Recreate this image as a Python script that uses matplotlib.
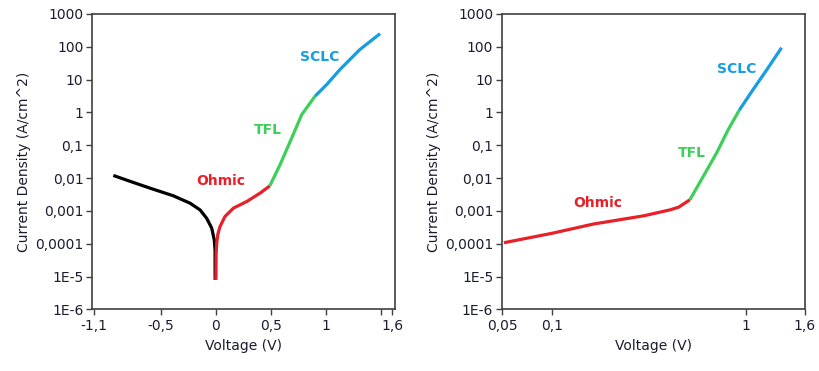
import numpy as np
import matplotlib.pyplot as plt
from matplotlib.ticker import FixedLocator, NullLocator

# left panel: J-V on linear voltage axis
neg_v = [-0.928, -0.747, -0.566, -0.384, -0.233, -0.142, -0.082, -0.036, -0.013, -0.006, -0.005]
neg_j = [0.0121, 0.0074, 0.0046, 0.0029, 0.00173, 0.00108, 6.0e-4, 3.0e-4, 1.31e-4, 6.5e-5, 8e-6]
ohm_v = [0.002, 0.004, 0.009, 0.020, 0.039, 0.084, 0.16, 0.281, 0.402, 0.49]
ohm_j = [8e-6, 5e-5, 1.05e-4, 2.0e-4, 3.35e-4, 6.8e-4, 1.22e-3, 1.94e-3, 3.5e-3, 5.8e-3]
tfl_v = [0.49, 0.583, 0.689, 0.78, 0.90]
tfl_j = [5.8e-3, 0.0256, 0.168, 0.865, 3.13]
sclc_v = [0.90, 1.006, 1.127, 1.308, 1.49]
sclc_j = [3.13, 7.1, 20.5, 83.5, 252]

# right panel: same kind of sweep on log voltage axis
ohm2_v = [0.0562, 0.1, 0.163, 0.296, 0.406, 0.45, 0.515]
ohm2_j = [1.08e-4, 2.1e-4, 4.0e-4, 7.1e-4, 1.08e-3, 1.3e-3, 2.19e-3]
tfl2_v = [0.515, 0.604, 0.708, 0.813, 0.927]
tfl2_j = [2.19e-3, 0.0113, 0.0585, 0.30, 1.17]
sclc2_v = [0.927, 1.094, 1.309, 1.535]
sclc2_j = [1.17, 5.0, 23.1, 94]

y_ticks = [1e-6, 1e-5, 1e-4, 1e-3, 1e-2, 1e-1, 1, 10, 100, 1000]
y_labels = ['1E-6', '1E-5', '0,0001', '0,001', '0,01', '0,1', '1', '10', '100', '1000']

x1_ticks = [-1.1, -0.5, 0, 0.5, 1, 1.5, 1.6]
x1_labels = ['-1,1', '-0,5', '0', '0,5', '1', '', '1,6']
x2_ticks = [0.0551, 0.1, 1, 2.03]
x2_labels = ['0,05', '0,1', '1', '1,6']

RED = '#e8202a'
GREEN = '#3dcf5a'
BLUE = '#169de3'
TXT = '#1c1c30'

plt.rcParams['font.family'] = 'DejaVu Sans'

fig = plt.figure(figsize=(8.19, 3.71), dpi=100)
ax1 = fig.add_axes([0.1129, 0.1658, 0.3694, 0.7965])
ax2 = fig.add_axes([0.6133, 0.1658, 0.3696, 0.7965])

lw = 2.3
kw = dict(lw=lw, solid_capstyle='butt', solid_joinstyle='round')
ax1.plot(neg_v, neg_j, color='black', **kw)
ax1.plot(ohm_v, ohm_j, color=RED, **kw)
ax1.plot(tfl_v, tfl_j, color=GREEN, **kw)
ax1.plot(sclc_v, sclc_j, color=BLUE, **kw)
ax1.set_yscale('log')
ax1.set_xlim(-1.117, 1.625)
ax1.xaxis.set_major_locator(FixedLocator(x1_ticks))
ax1.set_xticklabels(x1_labels)
ax1.text(0.048, 10**-2.1, 'Ohmic', color=RED, fontsize=10, fontweight='bold', ha='center', va='center')
ax1.text(0.47, 10**-0.52, 'TFL', color=GREEN, fontsize=10, fontweight='bold', ha='center', va='center')
ax1.text(0.946, 10**1.70, 'SCLC', color=BLUE, fontsize=10, fontweight='bold', ha='center', va='center')

ax2.plot(ohm2_v, ohm2_j, color=RED, **kw)
ax2.plot(tfl2_v, tfl2_j, color=GREEN, **kw)
ax2.plot(sclc2_v, sclc2_j, color=BLUE, **kw)
ax2.set_xscale('log')
ax2.set_yscale('log')
ax2.set_xlim(0.0551, 2.03)
ax2.xaxis.set_major_locator(FixedLocator(x2_ticks))
ax2.xaxis.set_minor_locator(NullLocator())
ax2.set_xticklabels(x2_labels)
ax2.text(0.171, 10**-2.764, 'Ohmic', color=RED, fontsize=10, fontweight='bold', ha='center', va='center')
ax2.text(0.53, 10**-1.236, 'TFL', color=GREEN, fontsize=10, fontweight='bold', ha='center', va='center')
ax2.text(0.898, 10**1.31, 'SCLC', color=BLUE, fontsize=10, fontweight='bold', ha='center', va='center')

for ax in (ax1, ax2):
    ax.set_ylim(1e-6, 1e3)
    ax.yaxis.set_major_locator(FixedLocator(y_ticks))
    ax.yaxis.set_minor_locator(NullLocator())
    ax.set_yticklabels(y_labels)
    ax.tick_params(axis='both', direction='out', length=4.5, width=1, color='#404040',
                   labelsize=10, labelcolor=TXT, pad=2)
    for s in ax.spines.values():
        s.set_color('#404040')
        s.set_linewidth(1.2)
    ax.set_xlabel('Voltage (V)', fontsize=10, color=TXT, labelpad=5)
    ax.set_ylabel('Current Density (A/cm^2)', fontsize=10, color=TXT, labelpad=3)

fig.savefig('out.png', dpi=100)
